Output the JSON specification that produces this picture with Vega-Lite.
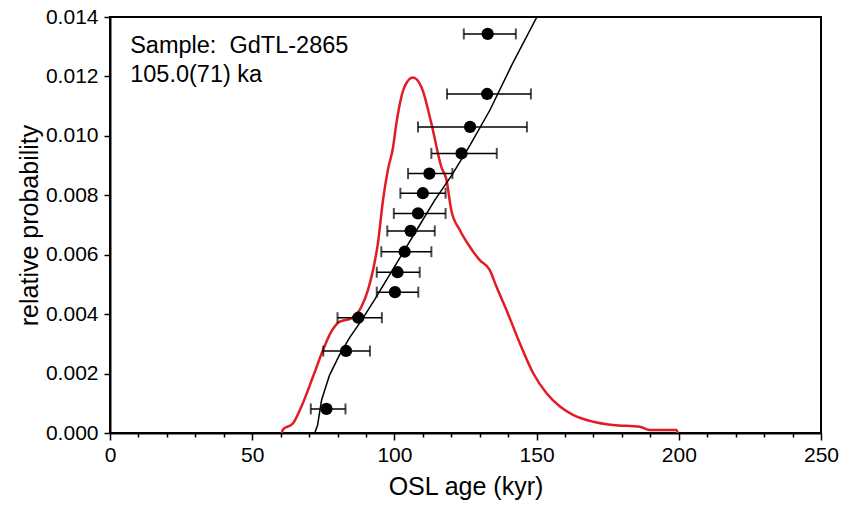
{
  "$schema": "https://vega.github.io/schema/vega-lite/v6.json",
  "autosize": "none",
  "width": 711,
  "height": 416,
  "padding": {"left": 110, "top": 17, "right": 21, "bottom": 81},
  "background": "white",
  "config": {
    "view": {"stroke": "black", "strokeWidth": 2},
    "font": "Liberation Sans"
  },
  "resolve": {"axis": {"x": "independent"}},
  "datasets": {
    "pts": [
      {"age": 132.8, "p": 0.01343, "lo": 124.4, "hi": 142.7},
      {"age": 132.6, "p": 0.01141, "lo": 118.5, "hi": 148.0},
      {"age": 126.6, "p": 0.0103, "lo": 108.3, "hi": 146.6},
      {"age": 123.6, "p": 0.00941, "lo": 113.0, "hi": 136.0},
      {"age": 112.3, "p": 0.00873, "lo": 104.8, "hi": 120.4},
      {"age": 110.0, "p": 0.00807, "lo": 102.1, "hi": 118.0},
      {"age": 108.3, "p": 0.00739, "lo": 99.8, "hi": 118.0},
      {"age": 105.7, "p": 0.0068, "lo": 97.5, "hi": 114.2},
      {"age": 103.6, "p": 0.0061, "lo": 95.4, "hi": 113.0},
      {"age": 101.1, "p": 0.00541, "lo": 93.8, "hi": 108.9},
      {"age": 100.2, "p": 0.00474, "lo": 93.8, "hi": 108.4},
      {"age": 87.3, "p": 0.00388, "lo": 80.0, "hi": 95.6},
      {"age": 83.0, "p": 0.00276, "lo": 75.0, "hi": 91.4},
      {"age": 76.1, "p": 0.00081, "lo": 70.6, "hi": 82.8}
    ],
    "cum": [
      {"age": 72.0, "p": 0.0},
      {"age": 73.0, "p": 0.00027},
      {"age": 74.4, "p": 0.00111},
      {"age": 77.2, "p": 0.00195},
      {"age": 80.7, "p": 0.00263},
      {"age": 84.2, "p": 0.0032},
      {"age": 88.5, "p": 0.0038},
      {"age": 93.0, "p": 0.00448},
      {"age": 98.3, "p": 0.00532},
      {"age": 103.6, "p": 0.00616},
      {"age": 108.9, "p": 0.007},
      {"age": 114.2, "p": 0.00784},
      {"age": 120.2, "p": 0.00868},
      {"age": 126.6, "p": 0.00969},
      {"age": 133.6, "p": 0.01087},
      {"age": 141.3, "p": 0.01239},
      {"age": 150.1, "p": 0.014}
    ],
    "dens": [
      {"age": 60.4, "p": 0.0},
      {"age": 60.8, "p": 0.00012},
      {"age": 64.3, "p": 0.00032},
      {"age": 67.3, "p": 0.00089},
      {"age": 71.4, "p": 0.0019},
      {"age": 74.9, "p": 0.00279},
      {"age": 77.8, "p": 0.00341},
      {"age": 80.8, "p": 0.00375},
      {"age": 84.9, "p": 0.00386},
      {"age": 88.4, "p": 0.00425},
      {"age": 90.7, "p": 0.00481},
      {"age": 92.5, "p": 0.00549},
      {"age": 94.2, "p": 0.00638},
      {"age": 96.0, "p": 0.00784},
      {"age": 97.7, "p": 0.00885},
      {"age": 99.5, "p": 0.0096},
      {"age": 100.7, "p": 0.01042},
      {"age": 103.6, "p": 0.01166},
      {"age": 106.5, "p": 0.01196},
      {"age": 109.6, "p": 0.01162},
      {"age": 113.0, "p": 0.01042},
      {"age": 116.5, "p": 0.00896},
      {"age": 118.3, "p": 0.00852},
      {"age": 120.0, "p": 0.0075},
      {"age": 123.0, "p": 0.00683},
      {"age": 126.5, "p": 0.00627},
      {"age": 130.0, "p": 0.00582},
      {"age": 133.5, "p": 0.00549},
      {"age": 135.9, "p": 0.00492},
      {"age": 139.4, "p": 0.00414},
      {"age": 144.1, "p": 0.00302},
      {"age": 148.8, "p": 0.00201},
      {"age": 153.5, "p": 0.00134},
      {"age": 158.2, "p": 0.00089},
      {"age": 162.8, "p": 0.00061},
      {"age": 169.9, "p": 0.00038},
      {"age": 176.9, "p": 0.00027},
      {"age": 186.3, "p": 0.00021},
      {"age": 189.8, "p": 0.0001},
      {"age": 199.2, "p": 0.0001},
      {"age": 199.6, "p": 0.0}
    ],
    "labels": [
      {"age": 7.1, "p": 0.01302, "t": "Sample:\u00a0 GdTL-2865"},
      {"age": 7.1, "p": 0.01205, "t": "105.0(71) ka"}
    ]
  },
  "layer": [
    {
      "data": {"name": "dens"},
      "mark": {"type": "line", "color": "#e31b23", "strokeWidth": 2.5, "clip": true, "interpolate": "monotone"},
      "encoding": {
        "x": {
          "field": "age", "type": "quantitative",
          "scale": {"domain": [0, 250], "nice": false},
          "axis": {
            "orient": "bottom",
            "title": "OSL age (kyr)",
            "titleFontSize": 25, "titleFontWeight": "normal", "titleColor": "black", "titlePadding": 9,
            "labelFontSize": 21, "labelColor": "black", "labelPadding": 4,
            "labelOverlap": false,
            "labelFlush": false,
            "values": [0, 50, 100, 150, 200, 250],
            "format": "d",
            "tickSize": 7,
            "tickColor": "black", "tickWidth": 1.5,
            "domainColor": "black", "domainWidth": 2,
            "grid": false
          }
        },
        "y": {
          "field": "p", "type": "quantitative",
          "scale": {"domain": [0, 0.014], "nice": false},
          "axis": {
            "title": "relative probability",
            "titleFontSize": 25, "titleFontWeight": "normal", "titleColor": "black", "titlePadding": 3,
            "labelFontSize": 21, "labelColor": "black", "labelPadding": 6,
            "labelOverlap": false,
            "values": [0, 0.002, 0.004, 0.006, 0.008, 0.01, 0.012, 0.014],
            "format": ".3f",
            "tickSize": 6, "tickColor": "black", "tickWidth": 1.5,
            "domainColor": "black", "domainWidth": 2,
            "grid": false
          }
        }
      }
    },
    {
      "data": {"name": "cum"},
      "mark": {"type": "line", "color": "black", "strokeWidth": 1.5, "clip": true},
      "encoding": {
        "x": {
          "field": "age", "type": "quantitative",
          "axis": {
            "orient": "bottom",
            "title": null,
            "labels": false,
            "domain": false,
            "grid": false,
            "values": [10,20,30,40,60,70,80,90,110,120,130,140,160,170,180,190,210,220,230,240],
            "tickSize": 4, "tickColor": "black", "tickWidth": 1.5
          }
        },
        "y": {"field": "p", "type": "quantitative", "title": "relative probability"}
      }
    },
    {
      "data": {"name": "pts"},
      "mark": {"type": "errorbar", "ticks": {"size": 11, "thickness": 2, "color": "black"}, "rule": {"strokeWidth": 1.5, "color": "black"}},
      "encoding": {
        "x": {"field": "lo", "type": "quantitative", "axis": null},
        "x2": {"field": "hi"},
        "y": {"field": "p", "type": "quantitative", "title": "relative probability"}
      }
    },
    {
      "data": {"name": "pts"},
      "mark": {"type": "circle", "color": "black", "opacity": 1, "size": 150},
      "encoding": {
        "x": {"field": "age", "type": "quantitative", "axis": null},
        "y": {"field": "p", "type": "quantitative", "title": "relative probability"}
      }
    },
    {
      "data": {"name": "labels"},
      "mark": {"type": "text", "align": "left", "baseline": "middle", "fontSize": 23.5, "color": "black"},
      "encoding": {
        "x": {"field": "age", "type": "quantitative", "axis": null},
        "y": {"field": "p", "type": "quantitative", "title": "relative probability"},
        "text": {"field": "t"}
      }
    }
  ]
}
